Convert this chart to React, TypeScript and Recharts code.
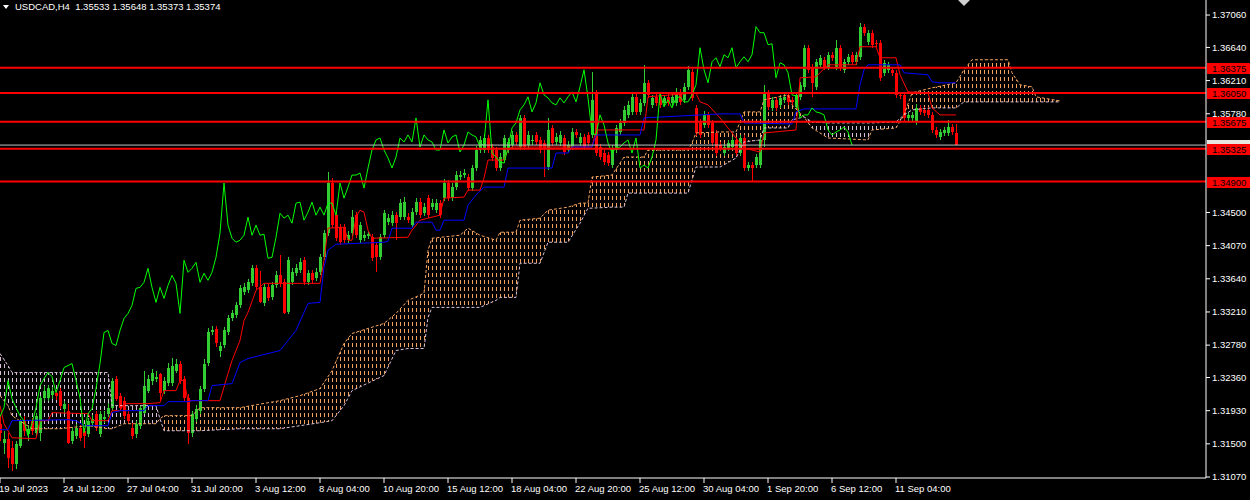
import React from 'react';
import { ComposedChart, Bar, Line, Area, XAxis, YAxis, ReferenceLine } from 'recharts';

// USDCAD H4 candles, bar 0 = 19 Jul 2023 20:00
const opens = [
  1.31761, 1.31514, 1.31566, 1.31449, 1.31241, 1.31475, 1.31800, 1.31631, 1.31800, 1.31644,
  1.31644, 1.32099, 1.32099, 1.32138, 1.32164, 1.32190, 1.31956, 1.31930, 1.31540, 1.31605,
  1.31709, 1.31670, 1.31631, 1.31774, 1.31891, 1.31631, 1.31826, 1.31891, 1.31969, 1.32346,
  1.32125, 1.32060, 1.31891, 1.31709, 1.31631, 1.31735, 1.31904, 1.32190, 1.32320, 1.32346,
  1.32411, 1.32190, 1.32294, 1.32294, 1.32450, 1.32541, 1.32346, 1.32099, 1.31644, 1.31826,
  1.31930, 1.32216, 1.32541, 1.32944, 1.32983, 1.32710, 1.32775, 1.32944, 1.33126, 1.33165,
  1.33295, 1.33464, 1.33490, 1.33581, 1.33776, 1.33529, 1.33321, 1.33529, 1.33399, 1.33555,
  1.33685, 1.33594, 1.33204, 1.33594, 1.33711, 1.33750, 1.33880, 1.33594, 1.33711, 1.33646,
  1.33724, 1.33919, 1.34231, 1.34881, 1.34465, 1.34309, 1.34309, 1.34140, 1.34231, 1.34465,
  1.34140, 1.34166, 1.34192, 1.34179, 1.34075, 1.33919, 1.34205, 1.34374, 1.34361, 1.34465,
  1.34439, 1.34439, 1.34439, 1.34335, 1.34504, 1.34634, 1.34491, 1.34686, 1.34569, 1.34530,
  1.34621, 1.34686, 1.34881, 1.34686, 1.34829, 1.34959, 1.34985, 1.34959, 1.34816, 1.35076,
  1.35310, 1.35310, 1.35466, 1.35349, 1.35310, 1.35076, 1.35180, 1.35310, 1.35375, 1.35505,
  1.35349, 1.35726, 1.35375, 1.35440, 1.35505, 1.35440, 1.35401, 1.35089, 1.35596, 1.35414,
  1.35401, 1.35466, 1.35310, 1.35349, 1.35544, 1.35401, 1.35479, 1.35505, 1.35505, 1.36051,
  1.35349, 1.35271, 1.35245, 1.35115, 1.35310, 1.35544, 1.35661, 1.35765, 1.35804, 1.35999,
  1.35804, 1.35921, 1.36181, 1.35895, 1.35999, 1.35986, 1.35921, 1.35999, 1.35921, 1.35921,
  1.36064, 1.35960, 1.36129, 1.36324, 1.35856, 1.35674, 1.35635, 1.35765, 1.35661, 1.35531,
  1.35375, 1.35271, 1.35336, 1.35349, 1.35440, 1.35271, 1.35466, 1.35076, 1.35115, 1.35115,
  1.35115, 1.35440, 1.36051, 1.35856, 1.35960, 1.35895, 1.35960, 1.36025, 1.35960, 1.35869,
  1.35999, 1.36129, 1.36636, 1.36389, 1.36129, 1.36415, 1.36480, 1.36389, 1.36545, 1.36389,
  1.36636, 1.36350, 1.36454, 1.36545, 1.36454, 1.36519, 1.36909, 1.36714, 1.36831, 1.36701,
  1.36701, 1.36311, 1.36350, 1.36350, 1.36311, 1.36025, 1.36025, 1.35726, 1.35726, 1.35674,
  1.35856, 1.35830, 1.35830, 1.35765, 1.35570, 1.35479, 1.35531, 1.35531, 1.35609, 1.35533,
];
const highs = [
  1.31865, 1.31670, 1.31644, 1.31540, 1.31540, 1.31826, 1.31865, 1.31748, 1.31839, 1.31904,
  1.32125, 1.32255, 1.32268, 1.32242, 1.32203, 1.32229, 1.32060, 1.32021, 1.31722, 1.31761,
  1.31748, 1.31709, 1.31839, 1.31878, 1.31930, 1.31930, 1.31930, 1.32034, 1.32359, 1.32385,
  1.32164, 1.32112, 1.31930, 1.31774, 1.31800, 1.32008, 1.32450, 1.32398, 1.32476, 1.32450,
  1.32424, 1.32372, 1.32554, 1.32619, 1.32606, 1.32580, 1.32385, 1.32151, 1.31930, 1.32008,
  1.32255, 1.32606, 1.32996, 1.33022, 1.33022, 1.32814, 1.33009, 1.33165, 1.33230, 1.33334,
  1.33555, 1.33581, 1.33633, 1.33815, 1.33815, 1.33737, 1.33568, 1.33568, 1.33594, 1.33737,
  1.33945, 1.33633, 1.33919, 1.33776, 1.33828, 1.33906, 1.33919, 1.33750, 1.33750, 1.33776,
  1.33958, 1.34270, 1.35024, 1.34946, 1.34504, 1.34348, 1.34348, 1.34257, 1.34530, 1.34504,
  1.34374, 1.34257, 1.34257, 1.34218, 1.34114, 1.34218, 1.34530, 1.34478, 1.34517, 1.34504,
  1.34673, 1.34699, 1.34491, 1.34556, 1.34686, 1.34686, 1.34621, 1.34725, 1.34673, 1.34673,
  1.34660, 1.34933, 1.34920, 1.34881, 1.35037, 1.35037, 1.35063, 1.34998, 1.35115, 1.35362,
  1.35492, 1.35518, 1.35505, 1.35388, 1.35349, 1.35271, 1.35505, 1.35466, 1.35557, 1.35544,
  1.35765, 1.35765, 1.35557, 1.35505, 1.35544, 1.35479, 1.35440, 1.35726, 1.35635, 1.35531,
  1.35557, 1.35505, 1.35427, 1.35596, 1.35583, 1.35531, 1.35518, 1.35544, 1.36324, 1.36090,
  1.35388, 1.35310, 1.35284, 1.35375, 1.35635, 1.35713, 1.35882, 1.35947, 1.36051, 1.36038,
  1.35973, 1.36415, 1.36220, 1.36025, 1.36038, 1.36025, 1.36025, 1.36038, 1.36038, 1.36116,
  1.36103, 1.36181, 1.36402, 1.36363, 1.35895, 1.35713, 1.35817, 1.35804, 1.35700, 1.35570,
  1.35414, 1.35388, 1.35440, 1.35479, 1.35479, 1.35505, 1.35505, 1.35154, 1.35154, 1.35258,
  1.35479, 1.36155, 1.36090, 1.35999, 1.35999, 1.36025, 1.36038, 1.36064, 1.35999, 1.36064,
  1.36194, 1.36675, 1.36675, 1.36428, 1.36493, 1.36545, 1.36519, 1.36584, 1.36584, 1.36740,
  1.36675, 1.36493, 1.36558, 1.36584, 1.36584, 1.36961, 1.36948, 1.36870, 1.36870, 1.36740,
  1.36740, 1.36480, 1.36454, 1.36389, 1.36350, 1.36064, 1.36064, 1.35804, 1.35804, 1.35908,
  1.35895, 1.35869, 1.35869, 1.35804, 1.35609, 1.35583, 1.35609, 1.35700, 1.35648, 1.35648,
];
const lows = [
  1.31540, 1.31371, 1.31189, 1.31150, 1.31176, 1.31449, 1.31605, 1.31540, 1.31618, 1.31592,
  1.31540, 1.32060, 1.32060, 1.32086, 1.32073, 1.31956, 1.31904, 1.31501, 1.31501, 1.31566,
  1.31540, 1.31449, 1.31592, 1.31722, 1.31670, 1.31592, 1.31774, 1.31852, 1.31930, 1.32060,
  1.31930, 1.31826, 1.31761, 1.31566, 1.31579, 1.31696, 1.31891, 1.32164, 1.32268, 1.32307,
  1.32060, 1.32151, 1.32255, 1.32255, 1.32424, 1.32281, 1.32060, 1.31501, 1.31592, 1.31787,
  1.31891, 1.32177, 1.32502, 1.32905, 1.32749, 1.32619, 1.32736, 1.32905, 1.33087, 1.33126,
  1.33256, 1.33425, 1.33451, 1.33542, 1.33490, 1.33321, 1.33282, 1.33347, 1.33360, 1.33516,
  1.33529, 1.33178, 1.33178, 1.33555, 1.33672, 1.33711, 1.33555, 1.33555, 1.33568, 1.33607,
  1.33685, 1.33880, 1.34192, 1.34296, 1.34127, 1.34075, 1.34101, 1.34101, 1.34192, 1.34166,
  1.34101, 1.34127, 1.34153, 1.33867, 1.33724, 1.33880, 1.34166, 1.34335, 1.34322, 1.34140,
  1.34400, 1.34400, 1.34361, 1.34296, 1.34465, 1.34426, 1.34452, 1.34426, 1.34530, 1.34491,
  1.34426, 1.34647, 1.34647, 1.34647, 1.34790, 1.34920, 1.34946, 1.34777, 1.34777, 1.35037,
  1.35271, 1.35271, 1.35271, 1.35167, 1.35037, 1.35037, 1.35141, 1.35271, 1.35336, 1.35375,
  1.35310, 1.35310, 1.35336, 1.35375, 1.35375, 1.35271, 1.34959, 1.35050, 1.35362, 1.35375,
  1.35362, 1.35245, 1.35271, 1.35310, 1.35466, 1.35362, 1.35310, 1.35362, 1.35466, 1.35232,
  1.35180, 1.35115, 1.35102, 1.35076, 1.35271, 1.35505, 1.35622, 1.35726, 1.35765, 1.35765,
  1.35765, 1.35882, 1.35986, 1.35856, 1.35882, 1.35856, 1.35882, 1.35882, 1.35882, 1.35882,
  1.35895, 1.35921, 1.36090, 1.35947, 1.35492, 1.35466, 1.35596, 1.35596, 1.35362, 1.35232,
  1.35297, 1.35232, 1.35297, 1.35310, 1.35232, 1.35232, 1.35037, 1.35037, 1.34894, 1.35076,
  1.35076, 1.35349, 1.35830, 1.35817, 1.35817, 1.35856, 1.35921, 1.35895, 1.35895, 1.35830,
  1.35960, 1.36090, 1.36311, 1.35999, 1.36090, 1.36376, 1.36350, 1.36350, 1.36467, 1.36350,
  1.36337, 1.36311, 1.36415, 1.36415, 1.36415, 1.36480, 1.36792, 1.36675, 1.36636, 1.36649,
  1.36207, 1.36272, 1.36311, 1.36272, 1.35986, 1.35973, 1.35687, 1.35687, 1.35687, 1.35635,
  1.35765, 1.35752, 1.35726, 1.35531, 1.35466, 1.35440, 1.35492, 1.35492, 1.35505, 1.35373,
];
const closes = [
  1.31644, 1.31566, 1.31319, 1.31241, 1.31501, 1.31800, 1.31670, 1.31696, 1.31670, 1.31865,
  1.32099, 1.32190, 1.32229, 1.32190, 1.32125, 1.31995, 1.32021, 1.31514, 1.31670, 1.31709,
  1.31579, 1.31605, 1.31800, 1.31826, 1.31709, 1.31891, 1.31852, 1.31969, 1.32320, 1.32086,
  1.31969, 1.31865, 1.31800, 1.31605, 1.31761, 1.31969, 1.32255, 1.32346, 1.32424, 1.32372,
  1.32164, 1.32320, 1.32489, 1.32515, 1.32541, 1.32320, 1.32099, 1.31644, 1.31891, 1.31956,
  1.32216, 1.32541, 1.32944, 1.32970, 1.32801, 1.32775, 1.32970, 1.33126, 1.33191, 1.33295,
  1.33516, 1.33529, 1.33594, 1.33776, 1.33529, 1.33334, 1.33529, 1.33386, 1.33555, 1.33685,
  1.33581, 1.33191, 1.33880, 1.33724, 1.33776, 1.33854, 1.33594, 1.33711, 1.33620, 1.33724,
  1.33919, 1.34231, 1.34881, 1.34335, 1.34166, 1.34114, 1.34140, 1.34205, 1.34439, 1.34205,
  1.34335, 1.34205, 1.34218, 1.33906, 1.33919, 1.34179, 1.34491, 1.34426, 1.34465, 1.34361,
  1.34621, 1.34634, 1.34400, 1.34504, 1.34634, 1.34465, 1.34569, 1.34465, 1.34621, 1.34621,
  1.34465, 1.34881, 1.34686, 1.34829, 1.34985, 1.34985, 1.35011, 1.34816, 1.35076, 1.35310,
  1.35440, 1.35466, 1.35310, 1.35206, 1.35076, 1.35219, 1.35466, 1.35414, 1.35505, 1.35414,
  1.35726, 1.35349, 1.35505, 1.35440, 1.35414, 1.35310, 1.35310, 1.35570, 1.35401, 1.35479,
  1.35505, 1.35284, 1.35375, 1.35544, 1.35505, 1.35479, 1.35349, 1.35401, 1.35960, 1.35271,
  1.35219, 1.35154, 1.35141, 1.35336, 1.35596, 1.35661, 1.35830, 1.35895, 1.35999, 1.35804,
  1.35921, 1.36181, 1.36025, 1.35986, 1.35921, 1.35895, 1.35986, 1.35921, 1.35999, 1.36064,
  1.35934, 1.36129, 1.36350, 1.35986, 1.35531, 1.35505, 1.35765, 1.35635, 1.35401, 1.35271,
  1.35336, 1.35349, 1.35401, 1.35440, 1.35271, 1.35466, 1.35076, 1.35115, 1.35076, 1.35219,
  1.35440, 1.36051, 1.35869, 1.35960, 1.35856, 1.35986, 1.35999, 1.35934, 1.35934, 1.36025,
  1.36155, 1.36636, 1.36350, 1.36181, 1.36454, 1.36506, 1.36389, 1.36545, 1.36506, 1.36636,
  1.36376, 1.36454, 1.36519, 1.36454, 1.36545, 1.36909, 1.36831, 1.36831, 1.36675, 1.36688,
  1.36246, 1.36441, 1.36415, 1.36311, 1.36025, 1.36012, 1.35726, 1.35765, 1.35765, 1.35856,
  1.35804, 1.35791, 1.35765, 1.35570, 1.35505, 1.35544, 1.35570, 1.35609, 1.35544, 1.35374,
];

// Ichimoku lines: [bar, price]
const tenkanPts = [
  [0, 1.31995], [1, 1.31761], [3, 1.31579], [9, 1.31566], [10, 1.318], [12, 1.318], [13, 1.31904],
  [22, 1.31891], [23, 1.318], [27, 1.318], [28, 1.3193], [30, 1.3193], [31, 1.32021], [37, 1.32021],
  [40, 1.32034], [41, 1.3219], [44, 1.3219], [45, 1.3232], [46, 1.3232], [47, 1.3206], [55, 1.3206],
  [57, 1.32411], [58, 1.3258], [60, 1.3284], [61, 1.331], [62, 1.33204], [64, 1.3349], [66, 1.33581],
  [80, 1.33581], [81, 1.3388], [82, 1.34296], [86, 1.34309], [87, 1.3414], [88, 1.3414], [89, 1.34439],
  [90, 1.3453], [91, 1.34504], [92, 1.3427], [93, 1.34166], [102, 1.34179], [103, 1.3427], [105, 1.344],
  [110, 1.34465], [111, 1.34686], [116, 1.34699], [117, 1.3479], [120, 1.3479], [121, 1.34946],
  [122, 1.3518], [126, 1.3518], [127, 1.3531], [128, 1.35349], [148, 1.35349], [149, 1.3557],
  [161, 1.3557], [162, 1.36], [174, 1.36051], [175, 1.35934], [177, 1.35895], [180, 1.35726],
  [186, 1.35336], [190, 1.35284], [191, 1.35531], [199, 1.3557], [200, 1.36246], [204, 1.36259],
  [205, 1.36311], [207, 1.36415], [214, 1.36415], [215, 1.36649], [219, 1.36649], [220, 1.36506],
  [224, 1.36506], [225, 1.36285], [227, 1.36064], [232, 1.36051], [233, 1.35856], [235, 1.35765],
  [239, 1.35765],
];
const kijunPts = [
  [0, 1.31683], [2, 1.31683], [3, 1.318], [17, 1.31813], [19, 1.318], [21, 1.31735], [27, 1.31735],
  [28, 1.31904], [30, 1.3193], [36, 1.3193], [37, 1.31995], [41, 1.31995], [42, 1.32047], [47, 1.32047],
  [48, 1.3206], [52, 1.3206], [53, 1.32255], [58, 1.32281], [60, 1.32554], [62, 1.32606], [70, 1.3271],
  [74, 1.3297], [77, 1.33321], [80, 1.33334], [81, 1.33789], [82, 1.3401], [84, 1.34088], [96, 1.34114],
  [97, 1.34127], [98, 1.34296], [103, 1.34296], [104, 1.34374], [108, 1.34374], [109, 1.3427],
  [110, 1.3427], [111, 1.344], [116, 1.344], [117, 1.34595], [119, 1.34725], [121, 1.34829],
  [126, 1.34829], [127, 1.35076], [138, 1.35076], [139, 1.35271], [142, 1.35271], [143, 1.35349],
  [148, 1.35349], [149, 1.35505], [160, 1.35505], [161, 1.35726], [180, 1.35778], [185, 1.35778],
  [186, 1.35661], [198, 1.35648], [199, 1.35804], [201, 1.35843], [214, 1.35843], [215, 1.36155],
  [216, 1.3635], [217, 1.36415], [225, 1.36415], [226, 1.36311], [232, 1.36285], [233, 1.36194],
  [235, 1.36181], [239, 1.36181],
];
// cloud: [bar, senkou span A, senkou span B]
const cloudPts = [
  [0, 1.32125, 1.32671], [2, 1.31995, 1.32515], [3, 1.31865, 1.32424], [8, 1.31696, 1.32424],
  [15, 1.31696, 1.32424], [22, 1.31735, 1.32424], [27, 1.31696, 1.32424], [28, 1.31696, 1.31995],
  [31, 1.31761, 1.31995], [39, 1.31761, 1.31995], [40, 1.31826, 1.31826], [41, 1.31865, 1.3167],
  [48, 1.31865, 1.3167], [50, 1.31969, 1.3167], [60, 1.31969, 1.31696], [70, 1.3206, 1.31696],
  [75, 1.32125, 1.31735], [80, 1.32216, 1.31774], [83, 1.3245, 1.318], [86, 1.32801, 1.31995],
  [88, 1.32931, 1.3219], [96, 1.33061, 1.32385], [99, 1.33191, 1.3271], [102, 1.3336, 1.32736],
  [106, 1.33451, 1.32736], [107, 1.3401, 1.33139], [108, 1.34166, 1.33269], [115, 1.34205, 1.33269],
  [117, 1.34296, 1.33269], [120, 1.34205, 1.33269], [124, 1.3414, 1.3336], [125, 1.34244, 1.33399],
  [129, 1.34244, 1.33399], [130, 1.344, 1.33841], [135, 1.34426, 1.33841], [137, 1.3453, 1.34114],
  [142, 1.34569, 1.34114], [145, 1.34621, 1.34361], [147, 1.34621, 1.34556], [148, 1.34959, 1.34556],
  [153, 1.34985, 1.34569], [156, 1.35219, 1.34569], [157, 1.35219, 1.34751], [161, 1.35219, 1.34751],
  [162, 1.3531, 1.34751], [172, 1.3531, 1.34751], [173, 1.35401, 1.3492], [174, 1.35531, 1.35089],
  [180, 1.35544, 1.35089], [184, 1.35544, 1.35206], [186, 1.35804, 1.35414], [190, 1.35804, 1.3544],
  [191, 1.3596, 1.35596], [197, 1.36025, 1.35596], [198, 1.35895, 1.357], [201, 1.35739, 1.35739],
  [203, 1.35596, 1.35674], [207, 1.35466, 1.35661], [217, 1.3544, 1.35661], [218, 1.3557, 1.35661],
  [224, 1.35596, 1.35674], [226, 1.35765, 1.35765], [228, 1.36051, 1.3583], [233, 1.36116, 1.35856],
  [239, 1.36181, 1.35856], [241, 1.3635, 1.35934], [243, 1.3648, 1.35934], [252, 1.3648, 1.35934],
  [253, 1.36311, 1.35934], [255, 1.36155, 1.35934], [258, 1.36129, 1.35934], [259, 1.35999, 1.35934],
  [265, 1.35947, 1.35934],
];

const levels = [1.36375, 1.3605, 1.35675, 1.35325, 1.349];
const bid = 1.35374;
const yTicks = [1.3107, 1.315, 1.3193, 1.3236, 1.3278, 1.3321, 1.3364, 1.3407, 1.345, 1.3578, 1.3621, 1.3664, 1.3706];
const xTickBars = [0, 16, 32, 48, 64, 80, 96, 112, 128, 144, 160, 176, 192, 208, 224];
const xTickLabels = [
  '19 Jul 2023', '24 Jul 12:00', '27 Jul 04:00', '31 Jul 20:00', '3 Aug 12:00', '8 Aug 04:00',
  '10 Aug 20:00', '15 Aug 12:00', '18 Aug 04:00', '22 Aug 20:00', '25 Aug 12:00', '30 Aug 04:00',
  '1 Sep 20:00', '6 Sep 12:00', '11 Sep 04:00',
];

const SHIFT = 26;
const FONT = '"Liberation Sans", Arial, sans-serif';
const BULL = '#32cd32';
const BEAR = '#ff0000';

const rows: any[] = [];
for (let i = 0; i < 266; i++) rows.push({ i });
opens.forEach((o, i) => {
  Object.assign(rows[i], { o, h: highs[i], l: lows[i], c: closes[i], range: [lows[i], highs[i]] });
});
closes.forEach((c, i) => {
  if (i >= SHIFT) rows[i - SHIFT].chikou = c;
});
tenkanPts.forEach(([i, v]) => (rows[i].tenkan = v));
kijunPts.forEach(([i, v]) => (rows[i].kijun = v));
cloudPts.forEach(([i, a, b]) => {
  rows[i].spanA = a;
  rows[i].spanB = b;
});

// split the cloud where the spans cross so each part gets its own colour
const segs: { col: string; pts: number[][] }[] = [];
let twist: number[] | null = null;
cloudPts.forEach((p) => {
  const [, a, b] = p;
  if (a === b) {
    if (segs.length) segs[segs.length - 1].pts.push(p);
    twist = p;
    return;
  }
  const col = a > b ? 'o' : 'w';
  const last = segs[segs.length - 1];
  if (!last || last.col !== col || twist) {
    segs.push({ col, pts: twist ? [twist, p] : [p] });
    twist = null;
  } else last.pts.push(p);
});
segs.forEach((s, k) => {
  s.pts.forEach(([i, a, b]) => (rows[i]['cloud' + k] = [Math.min(a, b), Math.max(a, b)]));
});

function Candle(props: any) {
  const { x, y, width, height, payload } = props;
  if (!payload || payload.o == null) return null;
  const { o, h, l, c } = payload;
  const top = Math.min(y, y + height);
  const span = Math.abs(height);
  const k = h - l > 0 ? span / (h - l) : 0;
  const cx = Math.round(x + width / 2);
  const yO = top + (h - o) * k;
  const yC = top + (h - c) * k;
  const col = c >= o ? BULL : BEAR;
  return (
    <g shapeRendering="crispEdges">
      <rect x={cx} y={Math.round(top)} width={1} height={Math.max(1, Math.round(span))} fill={col} />
      <rect x={cx - 1} y={Math.round(Math.min(yO, yC))} width={3} height={Math.max(1, Math.round(Math.abs(yC - yO)))} fill={col} />
    </g>
  );
}

function XTick(props: any) {
  const { x, y, payload } = props;
  const idx = xTickBars.indexOf(payload.value);
  return (
    <text x={x - 1} y={y} dy={7} fill="#fff" fontSize={9.5} fontFamily={FONT} textAnchor="start">
      {xTickLabels[idx]}
    </text>
  );
}

function PriceTag(props: any) {
  const { viewBox, text, bg } = props;
  if (!viewBox) return null;
  const x0 = viewBox.x + viewBox.width + 1;
  return (
    <g>
      <rect x={x0} y={viewBox.y - 5} width={43} height={11} fill={bg} shapeRendering="crispEdges" />
      {text && (
        <text x={x0 + 5} y={viewBox.y + 4} fill="#000" fontSize={9.5} fontFamily={FONT}>
          {text}
        </text>
      )}
    </g>
  );
}

export default function App() {
  return (
    <div style={{ position: 'fixed', left: 0, top: 0, width: 1250, height: 500, background: '#000' }}>
      <ComposedChart width={1250} height={500} data={rows} margin={{ top: 0, right: 0, bottom: 0, left: 0 }}>
        <defs>
          <pattern id="hatchO" patternUnits="userSpaceOnUse" width={4} height={7}>
            <rect x={0} y={0} width={1} height={4} fill="#f4a460" shapeRendering="crispEdges" />
          </pattern>
          <pattern id="hatchW" patternUnits="userSpaceOnUse" width={4} height={7}>
            <rect x={0} y={0} width={1} height={4} fill="#d8bfd8" shapeRendering="crispEdges" />
          </pattern>
        </defs>
        <XAxis
          dataKey="i"
          type="number"
          domain={[0, 301.5]}
          allowDataOverflow
          ticks={xTickBars}
          interval={0}
          height={22}
          tick={<XTick />}
          tickSize={5}
          tickMargin={2}
          tickLine={{ stroke: '#fff' }}
          axisLine={{ stroke: '#fff' }}
        />
        <YAxis
          orientation="right"
          type="number"
          width={44}
          domain={[1.31057, 1.37255]}
          allowDataOverflow
          ticks={yTicks}
          interval={0}
          tickFormatter={(v: number) => v.toFixed(5)}
          tick={{ fill: '#fff', fontSize: 9.5, fontFamily: FONT }}
          tickSize={4}
          tickMargin={2}
          tickLine={{ stroke: '#fff' }}
          axisLine={{ stroke: '#fff' }}
        />
        {segs.map((s, k) => (
          <Area
            key={'cloud' + k}
            dataKey={'cloud' + k}
            type="linear"
            stroke="none"
            fill={s.col === 'o' ? 'url(#hatchO)' : 'url(#hatchW)'}
            fillOpacity={1}
            connectNulls
            dot={false}
            activeDot={false}
            isAnimationActive={false}
          />
        ))}
        <Line dataKey="spanA" stroke="#f4a460" strokeDasharray="3 2" dot={false} activeDot={false} connectNulls isAnimationActive={false} />
        <Line dataKey="spanB" stroke="#d8bfd8" strokeDasharray="3 2" dot={false} activeDot={false} connectNulls isAnimationActive={false} />
        <Bar dataKey="range" barSize={3} shape={<Candle />} isAnimationActive={false} />
        <Line dataKey="tenkan" stroke="#ff0000" dot={false} activeDot={false} connectNulls isAnimationActive={false} />
        <Line dataKey="kijun" stroke="#0000ff" dot={false} activeDot={false} connectNulls isAnimationActive={false} />
        <Line dataKey="chikou" stroke="#00ff00" dot={false} activeDot={false} isAnimationActive={false} />
        <ReferenceLine
          y={bid}
          stroke="#c0c0c0"
          strokeWidth={1}
          label={(p: any) => <PriceTag viewBox={p.viewBox} bg="#e8e8e0" />}
        />
        {levels.map((v) => (
          <ReferenceLine
            key={v}
            y={v}
            stroke="#ff0000"
            strokeWidth={2}
            label={(p: any) => <PriceTag viewBox={p.viewBox} text={v.toFixed(5)} bg="#ff0000" />}
          />
        ))}
      </ComposedChart>
      <div
        style={{
          position: 'absolute', left: 3, top: 5, width: 0, height: 0,
          borderLeft: '3px solid transparent', borderRight: '3px solid transparent', borderTop: '4px solid #fff',
        }}
      />
      <div
        style={{
          position: 'absolute', left: 15, top: 1, color: '#fff', fontSize: 9.5, fontFamily: FONT,
          whiteSpace: 'pre', lineHeight: '12px',
        }}
      >
        {'USDCAD,H4  1.35533 1.35648 1.35373 1.35374'}
      </div>
      <div
        style={{
          position: 'absolute', left: 958, top: 0, width: 0, height: 0,
          borderLeft: '6px solid transparent', borderRight: '6px solid transparent', borderTop: '6px solid #d0d0d0',
        }}
      />
    </div>
  );
}
